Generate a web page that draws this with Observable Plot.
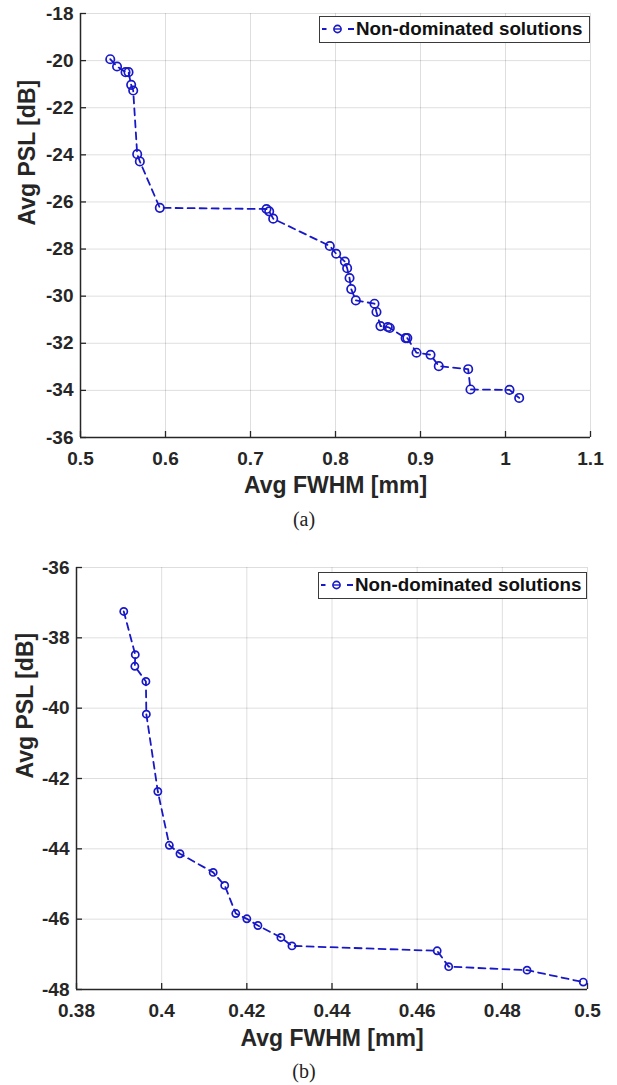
<!DOCTYPE html>
<html><head><meta charset="utf-8">
<script src="https://cdn.jsdelivr.net/npm/d3@7"></script>
<script src="https://cdn.jsdelivr.net/npm/@observablehq/plot@0.6"></script>
<style>
body{margin:0;background:#fff;}
#wrap{position:relative;width:617px;height:1085px;overflow:hidden;background:#fff;}
.chart{position:absolute;left:0;}
.legend{position:absolute;box-sizing:border-box;border:1.5px solid #3a3a3a;background:#fff;font:bold 18.8px "Liberation Sans",Arial,sans-serif;color:#111;}
.legend svg{position:absolute;left:0;top:0;}
.legend span{position:absolute;white-space:nowrap;line-height:1;}
.cap{position:absolute;font:20px "Liberation Serif","Times New Roman",serif;color:#222;transform:translateX(-50%);line-height:1;}
</style></head><body><div id="wrap"></div><script>
// ---- data: panel (a)
const fwhmA = [0.535,0.543,0.553,0.5565,0.5596,0.562,0.5667,0.5698,0.5933,0.7188,0.722,0.7267,0.7933,0.8008,0.811,0.8137,0.8165,0.8185,0.8239,0.8459,0.8482,0.8529,0.8615,0.8639,0.8825,0.8845,0.8953,0.9118,0.9215,0.9561,0.9588,1.0047,1.0161];
const pslA  = [-19.94,-20.25,-20.49,-20.49,-21.03,-21.27,-23.97,-24.28,-26.25,-26.30,-26.40,-26.71,-27.87,-28.20,-28.53,-28.81,-29.23,-29.70,-30.18,-30.32,-30.67,-31.27,-31.31,-31.35,-31.78,-31.78,-32.40,-32.49,-32.97,-33.10,-33.96,-33.98,-34.32];
const xTicksA = [0.5,0.6,0.7,0.8,0.9,1.0,1.1];
const yTicksA = [-36,-34,-32,-30,-28,-26,-24,-22,-20,-18];
// ---- data: panel (b)
const fwhmB = [0.3911,0.3938,0.3937,0.3963,0.3964,0.3991,0.4018,0.4043,0.4121,0.4148,0.4174,0.42,0.4226,0.428,0.4306,0.4647,0.4674,0.4858,0.499];
const pslB  = [-37.25,-38.48,-38.81,-39.24,-40.17,-42.37,-43.90,-44.14,-44.67,-45.04,-45.84,-45.99,-46.18,-46.52,-46.76,-46.90,-47.35,-47.45,-47.79];
const xTicksB = [0.38,0.40,0.42,0.44,0.46,0.48,0.50];
const yTicksB = [-48,-46,-44,-42,-40,-38,-36];
// ---- text
const xLabel = "Avg FWHM [mm]";
const yLabel = "Avg PSL [dB]";
const legendLabel = "Non-dominated solutions";
const captions = ["(a)", "(b)"];

const BLUE = "#1818c8";
const AXC = "#262626";
const fmt = d => String(+d.toFixed(2));

function chart(p) {
  const data = p.fwhm.map((x, i) => ({x, y: p.psl[i]}));
  const svg = Plot.plot({
    width: 617, height: p.height,
    marginTop: p.mt, marginBottom: p.mb, marginLeft: p.ml, marginRight: p.mr,
    x: {domain: [p.xTicks[0], p.xTicks[p.xTicks.length - 1]]},
    y: {domain: [p.yTicks[0], p.yTicks[p.yTicks.length - 1]]},
    style: {fontFamily: '"Liberation Sans", Arial, sans-serif', fontWeight: "bold", fontSize: "19px", color: AXC, background: "transparent", overflow: "visible"},
    marks: [
      Plot.gridX(p.xTicks, {stroke: "#000", strokeOpacity: 0.13, strokeWidth: 1}),
      Plot.gridY(p.yTicks, {stroke: "#000", strokeOpacity: 0.13, strokeWidth: 1}),
      Plot.axisX(p.xTicks, {tickSize: -6, tickPadding: 19.5, tickFormat: fmt, label: null, strokeWidth: 1.3, fontWeight: "bold"}),
      Plot.axisY(p.yTicks, {tickSize: -6, tickPadding: 13, tickFormat: fmt, label: null, strokeWidth: 1.3, fontWeight: "bold"}),
      Plot.ruleY([p.yTicks[0]], {stroke: AXC, strokeWidth: 1.5}),
      Plot.ruleX([p.xTicks[0]], {stroke: AXC, strokeWidth: 1.5}),
      Plot.line(data, {x: "x", y: "y", stroke: BLUE, strokeWidth: 1.8, strokeDasharray: "7,5"}),
      Plot.dot(data, {x: "x", y: "y", r: p.r, stroke: BLUE, strokeWidth: 1.7, fill: "none"}),
      Plot.text([xLabel], {frameAnchor: "bottom", dy: p.xLabDy, fontSize: 23, fontWeight: "bold", fill: AXC}),
      Plot.text([yLabel], {frameAnchor: "left", dx: p.yLabDx, rotate: -90, fontSize: 23, fontWeight: "bold", fill: AXC})
    ]
  });
  svg.classList.add("chart");
  svg.style.top = p.top + "px";
  document.getElementById("wrap").appendChild(svg);
}

function legend(l) {
  const div = document.createElement("div");
  div.className = "legend";
  Object.assign(div.style, {left: l.left + "px", top: l.top + "px", width: l.w + "px", height: l.h + "px"});
  const cy = l.h / 2 - 1.5;
  div.innerHTML = `<svg width="40" height="${l.h}"><line x1="2" x2="6.5" y1="${cy}" y2="${cy}" stroke="${BLUE}" stroke-width="2"/>` +
    `<circle cx="17.5" cy="${cy}" r="3.6" fill="none" stroke="${BLUE}" stroke-width="1.6"/>` +
    `<line x1="13.9" x2="21.1" y1="${cy}" y2="${cy}" stroke="${BLUE}" stroke-width="1.4"/>` +
    `<line x1="28" x2="34" y1="${cy}" y2="${cy}" stroke="${BLUE}" stroke-width="2"/></svg>` +
    `<span style="left:36px;top:${cy - 9.5}px">${legendLabel}</span>`;
  document.getElementById("wrap").appendChild(div);
}

function caption(text, x, top) {
  const d = document.createElement("div");
  d.className = "cap";
  d.textContent = text;
  Object.assign(d.style, {left: x + "px", top: top + "px"});
  document.getElementById("wrap").appendChild(d);
}

chart({fwhm: fwhmA, psl: pslA, xTicks: xTicksA, yTicks: yTicksA, top: 0, height: 505,
  mt: 13, mb: 68, ml: 80, mr: 27, r: 4.2, xLabDy: 55, yLabDx: -53});
chart({fwhm: fwhmB, psl: pslB, xTicks: xTicksB, yTicks: yTicksB, top: 540, height: 520,
  mt: 27, mb: 71, ml: 76, mr: 30, r: 3.6, xLabDy: 56, yLabDx: -51});
legend({left: 319, top: 16, w: 271, h: 27});
legend({left: 318, top: 572, w: 269, h: 27});
caption(captions[0], 304, 509);
caption(captions[1], 304, 1061);
</script></body></html>
